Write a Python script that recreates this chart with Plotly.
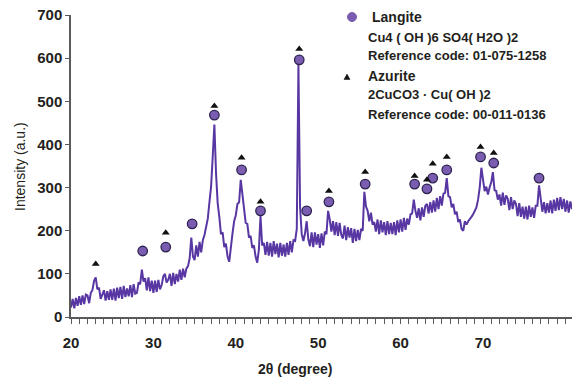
import numpy as np
import plotly.graph_objects as go

# 2-theta sampling grid (0.2 degree step) and intensities
two_theta = np.round(np.arange(20.0, 80.81, 0.2), 1)
intensity_rows = [
    [22, 42, 20, 44, 26],      # 20
    [48, 28, 50, 30, 52],      # 21
    [50, 32, 56, 62, 84],      # 22
    [92, 64, 68, 42, 54],      # 23
    [62, 38, 60, 40, 64],      # 24
    [40, 66, 38, 68, 44],      # 25
    [70, 42, 72, 46, 66],      # 26
    [48, 74, 46, 76, 54],      # 27
    [56, 80, 76, 110, 82],     # 28
    [90, 62, 92, 60, 84],      # 29
    [56, 84, 58, 86, 64],      # 30
    [74, 94, 100, 80, 86],     # 31
    [100, 72, 102, 76, 100],   # 32
    [82, 110, 86, 112, 92],    # 33
    [112, 118, 136, 184, 140], # 34
    [132, 166, 140, 174, 150], # 35
    [178, 190, 208, 228, 266], # 36
    [302, 372, 446, 333, 264], # 37
    [232, 192, 196, 162, 170], # 38
    [140, 128, 166, 194, 222], # 39
    [236, 262, 266, 318, 282], # 40
    [258, 218, 216, 184, 188], # 41
    [160, 166, 140, 126, 156], # 42
    [234, 166, 172, 144, 174], # 43
    [142, 172, 140, 176, 146], # 44
    [170, 138, 172, 142, 168], # 45
    [140, 172, 144, 176, 150], # 46
    [178, 176, 204, 586, 255], # 47
    [192, 176, 194, 222, 180], # 48
    [164, 196, 162, 196, 168], # 49
    [192, 160, 194, 166, 198], # 50
    [192, 246, 226, 198, 222], # 51
    [190, 220, 188, 218, 190], # 52
    [182, 212, 178, 208, 184], # 53
    [206, 172, 204, 176, 202], # 54
    [178, 204, 200, 290, 256], # 55
    [246, 222, 242, 214, 220], # 56
    [198, 226, 192, 224, 196], # 57
    [220, 190, 222, 192, 218], # 58
    [192, 220, 190, 224, 196], # 59
    [226, 198, 230, 202, 228], # 60
    [214, 238, 240, 272, 246], # 61
    [230, 252, 224, 254, 232], # 62
    [258, 262, 240, 266, 242], # 63
    [270, 244, 276, 250, 280], # 64
    [258, 286, 288, 322, 280], # 65
    [278, 254, 262, 238, 244], # 66
    [220, 226, 204, 200, 222], # 67
    [214, 222, 226, 232, 238], # 68
    [248, 254, 272, 300, 346], # 69
    [314, 292, 302, 284, 300], # 70
    [312, 336, 294, 292, 272], # 71
    [284, 258, 288, 260, 282], # 72
    [274, 248, 278, 250, 270], # 73
    [262, 234, 264, 232, 256], # 74
    [228, 256, 226, 258, 232], # 75
    [254, 230, 258, 258, 305], # 76
    [268, 244, 266, 240, 264], # 77
    [242, 270, 240, 272, 246], # 78
    [276, 248, 278, 250, 274], # 79
    [244, 270, 242, 268, 250], # 80
]
intensity = [v for row in intensity_rows for v in row]

langite_x = [28.7, 31.5, 34.7, 37.4, 40.7, 43.0, 47.7, 48.6, 51.3, 55.7, 61.7, 63.2, 63.9, 65.6, 69.7, 71.3, 76.8]
langite_y = [153, 162, 216, 468, 341, 246, 596, 246, 267, 308, 308, 297, 322, 341, 371, 357, 322]

azurite_x = [23.0, 31.5, 37.4, 40.7, 43.0, 47.7, 51.3, 55.7, 61.7, 63.2, 63.9, 65.6, 69.7, 71.3]
azurite_y = [123, 195, 489, 369, 267, 621, 292, 336, 327, 318, 355, 371, 394, 380]

x_ticks = [20, 30, 40, 50, 60, 70]
y_ticks = [0, 100, 200, 300, 400, 500, 600, 700]

FONT = "Arial, Liberation Sans, sans-serif"
TXT = "#231f20"
AX = "#5a5a5a"

fig = go.Figure()
fig.add_trace(go.Scatter(x=two_theta, y=intensity, mode="lines",
                         line=dict(color="#5837a3", width=2), showlegend=False))
fig.add_trace(go.Scatter(x=langite_x, y=langite_y, mode="markers",
                         marker=dict(symbol="circle", size=9.5, color="#7a5cb0",
                                     line=dict(color="#2e2450", width=1.3)),
                         showlegend=False))
fig.add_trace(go.Scatter(x=azurite_x, y=azurite_y, mode="markers",
                         marker=dict(symbol="triangle-up", size=7, color="#111111"),
                         showlegend=False))

fig.update_layout(
    width=572, height=382,
    margin=dict(l=71, r=0, t=15, b=65),
    paper_bgcolor="white", plot_bgcolor="white",
    font=dict(family=FONT, color=TXT),
)
fig.update_xaxes(range=[20, 80.8], tickvals=x_ticks, ticks="outside", ticklen=5,
                 tickcolor=AX, showline=True, linecolor=AX, linewidth=1.5,
                 showgrid=False, zeroline=False,
                 tickfont=dict(family=FONT, size=15, color=TXT, weight="bold"),
                 ticklabelstandoff=6,
                 minor=dict(dtick=1, tick0=20, ticks="outside", ticklen=5, tickcolor=AX, showgrid=False))
fig.update_yaxes(range=[0, 700], tickvals=y_ticks, ticks="outside", ticklen=4,
                 tickcolor=AX, showline=True, linecolor=AX, linewidth=1.5,
                 showgrid=False, zeroline=False,
                 tickfont=dict(family=FONT, size=15, color=TXT, weight="bold"))

def px_x(px):
    return (px - 71) / 501.0

def px_y(py):
    return (317 - py) / 302.0

ann = []
ann.append(dict(text="Intensity (a.u.)", x=px_x(20), y=px_y(167), textangle=-90,
                font=dict(size=14, color=TXT)))
ann.append(dict(text="<b>2θ (degree)</b>", x=px_x(295), y=px_y(369),
                font=dict(size=14, color=TXT)))
ann.append(dict(text="<b>Langite</b>", x=px_x(370), y=px_y(17), xanchor="left",
                font=dict(size=14, color=TXT)))
ann.append(dict(text="<b>Azurite</b>", x=px_x(366), y=px_y(76), xanchor="left",
                font=dict(size=14, color=TXT)))
for txt, py in [("Cu4 ( OH )6 SO4( H2O )2", 37), ("Reference code: 01-075-1258", 55),
                ("2CuCO3 · Cu( OH )2", 94), ("Reference code: 00-011-0136", 114)]:
    ann.append(dict(text="<b>" + txt + "</b>", x=px_x(366), y=px_y(py), xanchor="left",
                    font=dict(size=13, color=TXT)))
for a in ann:
    a.update(xref="paper", yref="paper", showarrow=False, yanchor="middle",
             xanchor=a.get("xanchor", "center"))
fig.update_layout(annotations=ann)

fig.add_shape(type="circle", xref="paper", yref="paper", xsizemode="pixel", ysizemode="pixel",
              xanchor=px_x(352), yanchor=px_y(17), x0=-4.5, x1=4.5, y0=-4.5, y1=4.5,
              fillcolor="#7a5cb0", line=dict(color="#7a5cb0", width=1))
fig.add_shape(type="path", xref="paper", yref="paper", xsizemode="pixel", ysizemode="pixel",
              xanchor=px_x(347), yanchor=px_y(77), path="M -3 -2.5 L 3 -2.5 L 0 3 Z",
              fillcolor="#111111", line=dict(color="#111111", width=0.5))

fig.write_html("out.html", config={"displayModeBar": False},
               post_script="document.body.style.margin='0';document.body.style.padding='0';")
